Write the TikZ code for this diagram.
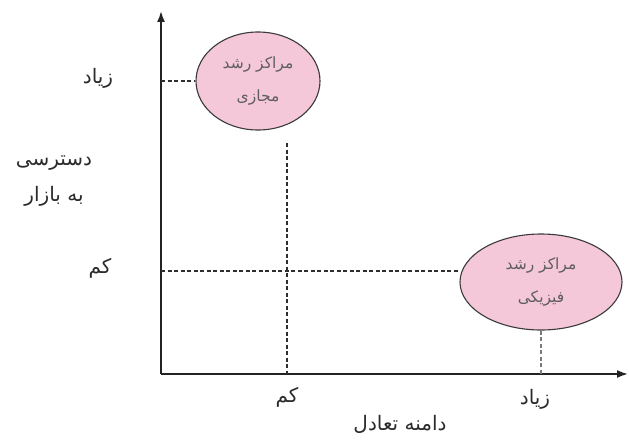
\documentclass[tikz,border=0pt]{standalone}
\usepackage{fontspec}
\usetikzlibrary{arrows.meta, positioning, shapes.geometric}
\TeXXeTstate=1
\newfontfamily\persfont[Script=Arabic]{DejaVu Sans}
\definecolor{axisdk}{HTML}{232323}
\definecolor{dashdk}{HTML}{2E2E2E}
\definecolor{dashlt}{HTML}{7A7A7A}
\definecolor{blobpink}{HTML}{F5C8D9}
\definecolor{blobedge}{HTML}{3A3A3A}
\definecolor{lbltext}{HTML}{2B2B2B}
\definecolor{inntext}{HTML}{5E5E5E}

\begin{document}
\begin{tikzpicture}[
  x=1pt, y=-1pt,
  >={Latex[length=11pt, width=8pt]},
  axisline/.style={line width=1.8pt, axisdk},
  guide/.style={line width=1.4pt, dashdk, dash pattern=on 4pt off 2.5pt},
  blob/.style={ellipse, draw=blobedge, line width=1.1pt, fill=blobpink,
    inner sep=0pt, align=center, font=\persfont\fontsize{15.5}{33}\selectfont,
    text=inntext},
  lbl/.style={font=\persfont\fontsize{20}{36}\selectfont, text=lbltext, align=center},
]

% Frame
\useasboundingbox (0,0) rectangle (629,444);

% ========================================
% Axes
% ========================================
\coordinate (orig) at (161,374);
\coordinate (ytop) at (161,11);
\coordinate (xend) at (628,374);
\draw[->, axisline] (orig) -- (ytop);
\draw[->, axisline] (orig) -- (xend);

% ========================================
% Centres
% ========================================
\node[blob, minimum width=124pt, minimum height=98pt] (virt) at (258,81)
  {\beginR مراکز رشد\endR\\\beginR مجازی\endR};
\node[blob, minimum width=162pt, minimum height=96pt] (phys) at (541,282)
  {\beginR مراکز رشد\endR\\\beginR فیزیکی\endR};

% Guide lines
\coordinate (yhigh) at (orig |- virt.west);
\coordinate (ylow) at (161,271);
\coordinate (xlowtop) at (287,143);
\coordinate (xlow) at (orig -| xlowtop);
\coordinate (xhigh) at (orig -| phys.south);
\draw[guide] (yhigh) -- (virt.west);
\draw[guide] (ylow) -- (ylow -| phys.west);
\draw[guide] (xlowtop) -- (xlow);
\draw[guide, dashlt, line width=1.1pt] (phys.south) -- (xhigh);

% ========================================
% Labels
% ========================================
\node[lbl] (yhi) at (98,78) {\beginR زیاد\endR};
\node[lbl] (ylo) at (100,268) {\beginR کم\endR};
\node[lbl] (ytitle) at (54,181) {\beginR دسترسی\endR\\\beginR به بازار\endR};
\node[lbl] (xlo) at (287,397) {\beginR کم\endR};
\node[lbl] (xhi) at (535,399) {\beginR زیاد\endR};
\node[lbl] (xtitle) at (400,424) {\beginR دامنه تعادل\endR};

\end{tikzpicture}
\end{document}
